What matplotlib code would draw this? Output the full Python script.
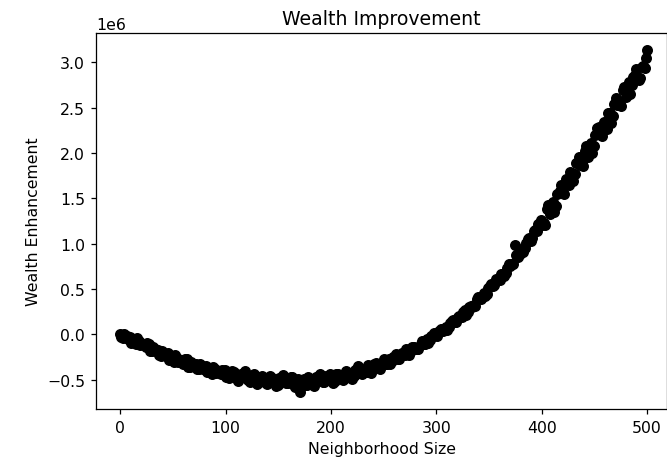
"""
Scatter of wealth improvement vs. neighborhood size
"""
import matplotlib
matplotlib.use("Agg")
import matplotlib.pyplot as plt
import numpy as np

# neighborhood sizes, two interleaved runs
sizes_a = np.append(np.arange(0, 499, 3), 500)
sizes_b = np.arange(1, 500, 3)

# wealth enhancement in millions
wealth_a_m = [
    # 0 - 99
    0.005, -0.035, -0.020, -0.025, -0.070, -0.105, -0.070, -0.105, -0.140, -0.105,
    -0.180, -0.158, -0.166, -0.234, -0.212, -0.205, -0.260, -0.304, -0.256, -0.288,
    -0.320, -0.272, -0.354, -0.326, -0.326, -0.385, -0.354, -0.343, -0.392, -0.431,
    -0.380, -0.409, -0.438, -0.387,
    # 102 - 297
    -0.464, -0.430, -0.416, -0.492, -0.448, -0.424, -0.490, -0.526, -0.452, -0.488,
    -0.522, -0.455, -0.538, -0.491, -0.474, -0.527, -0.560, -0.490, -0.510, -0.540,
    -0.473, -0.555, -0.508, -0.630, -0.486, -0.553, -0.490, -0.537, -0.464, -0.501,
    -0.526, -0.460, -0.504, -0.468, -0.512, -0.436, -0.470, -0.481, -0.422, -0.433,
    -0.454, -0.385, -0.426, -0.386, -0.414, -0.352, -0.370, -0.318, -0.366, -0.314,
    -0.330, -0.275, -0.290, -0.255, -0.266, -0.208, -0.230, -0.182, -0.184, -0.136,
    -0.156, -0.105, -0.104, -0.054, -0.060, -0.015,
    # 300 - 399
    -0.010, 0.044, 0.038, 0.082, 0.078, 0.145, 0.142, 0.190, 0.190, 0.270,
    0.250, 0.313, 0.326, 0.389, 0.386, 0.452, 0.448, 0.532, 0.538, 0.614,
    0.600, 0.672, 0.674, 0.776, 0.780, 0.985, 0.850, 0.946, 0.954, 1.052,
    1.030, 1.141, 1.142, 1.263,
    # 402 - 498
    1.234, 1.385, 1.326, 1.458, 1.412, 1.586, 1.560, 1.717, 1.644, 1.781,
    1.767, 1.951, 1.885, 2.027, 1.958, 2.109, 2.080, 2.271, 2.202, 2.343,
    2.266, 2.446, 2.406, 2.606, 2.540, 2.694, 2.618, 2.783, 2.748, 2.863,
    2.808, 2.943, 2.938,
    # 500
    3.130,
]

wealth_b_m = [
    # 1 - 100
    -0.025, 0.000, -0.045, -0.090, -0.045, -0.040, -0.115, -0.100, -0.095, -0.180,
    -0.136, -0.184, -0.222, -0.180, -0.236, -0.280, -0.235, -0.228, -0.300, -0.282,
    -0.274, -0.356, -0.308, -0.349, -0.379, -0.328, -0.377, -0.416, -0.365, -0.354,
    -0.423, -0.402, -0.391, -0.469,
    # 103 - 298
    -0.481, -0.397, -0.463, -0.514, -0.430, -0.406, -0.502, -0.463, -0.439, -0.549,
    -0.463, -0.511, -0.544, -0.457, -0.520, -0.568, -0.480, -0.450, -0.540, -0.496,
    -0.469, -0.576, -0.488, -0.533, -0.560, -0.467, -0.524, -0.566, -0.473, -0.439,
    -0.524, -0.473, -0.437, -0.536, -0.440, -0.479, -0.502, -0.403, -0.454, -0.490,
    -0.391, -0.352, -0.433, -0.377, -0.335, -0.428, -0.326, -0.359, -0.377, -0.274,
    -0.320, -0.330, -0.245, -0.219, -0.270, -0.207, -0.164, -0.226, -0.138, -0.164,
    -0.164, -0.073, -0.102, -0.096, -0.022, 0.013,
    # 301 - 400
    -0.022, 0.062, 0.046, 0.051, 0.127, 0.164, 0.141, 0.200, 0.250, 0.220,
    0.301, 0.304, 0.317, 0.411, 0.408, 0.424, 0.509, 0.554, 0.540, 0.606,
    0.664, 0.646, 0.738, 0.751, 0.775, 0.880, 0.885, 0.912, 1.010, 1.068,
    1.067, 1.148, 1.219, 1.210,
    # 403 - 499
    1.211, 1.422, 1.363, 1.346, 1.550, 1.644, 1.549, 1.696, 1.793, 1.690,
    1.885, 1.869, 1.862, 2.074, 2.015, 1.996, 2.197, 2.288, 2.189, 2.334,
    2.436, 2.336, 2.536, 2.524, 2.518, 2.732, 2.673, 2.648, 2.843, 2.928,
    2.823, 2.958, 3.043,
]

wealth_a = np.array(wealth_a_m) * 1e6
wealth_b = np.array(wealth_b_m) * 1e6

fig, ax = plt.subplots(figsize=(667 / 113, 469 / 113), dpi=113)
fig.subplots_adjust(left=0.144, right=1.0, top=0.927, bottom=0.126)

ax.scatter(sizes_a, wealth_a, color='black')
ax.scatter(sizes_b, wealth_b, color='black')

ax.set_xlim(-23, 519)
ax.set_ylim(-0.82e6, 3.32e6)
ax.set_title('Wealth Improvement')
ax.set_xlabel('Neighborhood Size')
ax.set_ylabel('Wealth Enhancement')

plt.savefig('out.png', dpi=113)
plt.close()
